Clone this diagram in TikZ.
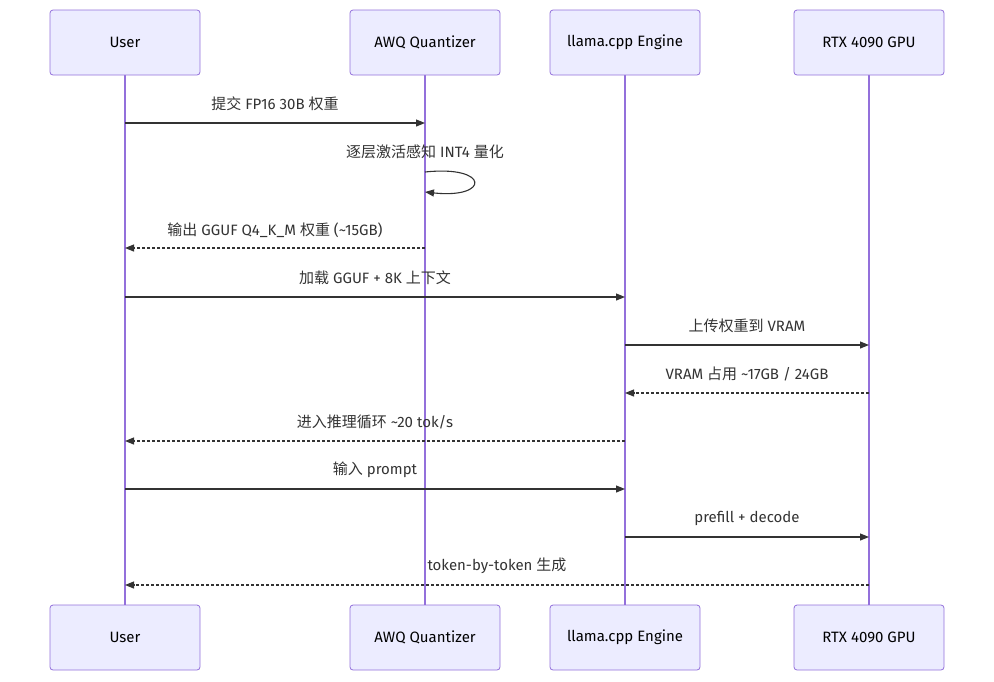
\documentclass[tikz,border=0pt]{standalone}
\usepackage{fontspec}
\setmainfont{Fira Sans}
\newfontfamily\cjk{Noto Sans CJK SC}
\usetikzlibrary{arrows.meta}
\definecolor{boxfill}{HTML}{ECECFF}
\definecolor{boxline}{HTML}{9370DB}
\definecolor{ink}{HTML}{333333}
\begin{document}
\begin{tikzpicture}[x=1pt,y=-1pt,
  actor/.style={draw=boxline,fill=boxfill,rounded corners=3pt,minimum width=150pt,minimum height=65pt,font=\fontsize{15}{18}\selectfont,text=black,line width=0.8pt},
  life/.style={draw=boxline,line width=1.5pt},
  msg/.style={draw=ink,line width=1.1pt,-{Triangle[length=9pt,width=7pt]}},
  rep/.style={msg,dash pattern=on 3pt off 2pt},
  lab/.style={font=\fontsize{15}{18}\selectfont,text=ink,inner sep=0pt}]
\useasboundingbox (0,0) rectangle (994,681);
\foreach \n/\x/\t in {u/125/User,a/425/AWQ Quantizer,l/625/llama.cpp Engine,r/869/RTX 4090 GPU}{
  \draw[life] (\x,75) -- (\x,605);
  \node[actor] (\n1) at (\x,42.5) {\t};
  \node[actor] (\n2) at (\x,637.5) {\t};
}
\draw[msg] (u1 |- 0,123) -- (a1 |- 0,123);
\node[lab] (t1) at (275,104) {{\cjk 提交} FP16 30B {\cjk 权重}};
\node[lab] (t2) at (425,152) {{\cjk 逐层激活感知} INT4 {\cjk 量化}};
\draw[msg] (a1 |- 0,172) .. controls (490,165) and (490,199) .. (a1 |- 0,192);
\draw[rep] (a1 |- 0,248) -- (u1 |- 0,248);
\node[lab] (t3) at (275,230) {{\cjk 输出} GGUF Q4\_K\_M {\cjk 权重} (\textasciitilde15GB)};
\draw[msg] (u1 |- 0,297) -- (l1 |- 0,297);
\node[lab] (t4) at (375,278) {{\cjk 加载} GGUF + 8K {\cjk 上下文}};
\draw[msg] (l1 |- 0,345) -- (r1 |- 0,345);
\node[lab] (t5) at (747,326) {{\cjk 上传权重到} VRAM};
\draw[rep] (r1 |- 0,393) -- (l1 |- 0,393);
\node[lab] (t6) at (747,374) {VRAM {\cjk 占用} \textasciitilde17GB / 24GB};
\draw[rep] (l1 |- 0,441) -- (u1 |- 0,441);
\node[lab] (t7) at (375,422) {{\cjk 进入推理循环} \textasciitilde20 tok/s};
\draw[msg] (u1 |- 0,489) -- (l1 |- 0,489);
\node[lab] (t8) at (375,470) {{\cjk 输入} prompt};
\draw[msg] (l1 |- 0,537) -- (r1 |- 0,537);
\node[lab] (t9) at (747,518) {prefill + decode};
\draw[rep] (r1 |- 0,585) -- (u1 |- 0,585);
\node[lab] (t10) at (497,566) {token-by-token {\cjk 生成}};
\end{tikzpicture}
\end{document}
